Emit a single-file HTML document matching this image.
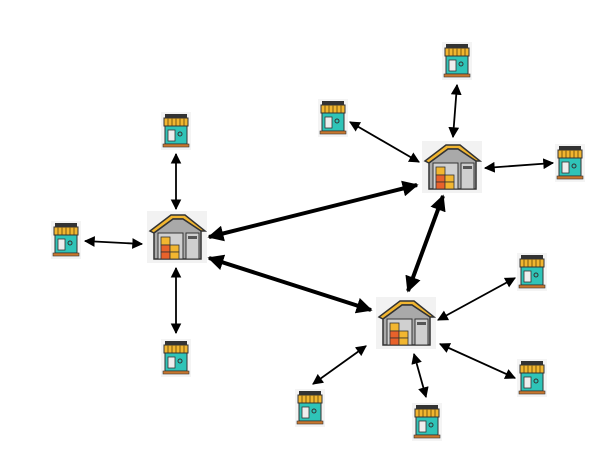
<!DOCTYPE html>
<html><head><style>body{margin:0;background:#fff}svg{display:block}</style></head><body>
<svg width="608" height="469" viewBox="0 0 608 469" xmlns="http://www.w3.org/2000/svg">
<defs>
<marker id="a" viewBox="0 0 10 10" refX="9" refY="5" markerWidth="6" markerHeight="6" orient="auto-start-reverse"><path d="M0,0L10,5L0,10z" fill="#000"/></marker>
<marker id="b" viewBox="0 0 10 10" refX="9" refY="5" markerWidth="4" markerHeight="4" orient="auto-start-reverse"><path d="M0,0L10,5L0,10z" fill="#000"/></marker>
<g id="s">
<rect x="0" y="0" width="30" height="38" fill="#f4f4f4"/>
<rect x="4" y="2" width="22" height="5" fill="#333"/>
<rect x="3" y="6" width="24" height="8" fill="#f2b630" stroke="#333" stroke-width="1"/>
<path d="M7 6v8M11 6v8M15 6v8M19 6v8M23 6v8" stroke="#7a5a10" stroke-width="1"/>
<rect x="4" y="14" width="22" height="18" fill="#2fc4b8" stroke="#333" stroke-width="1"/>
<rect x="7" y="18" width="7" height="11" fill="#eee" stroke="#333" stroke-width="0.8"/>
<circle cx="19" cy="22" r="2" fill="none" stroke="#333"/>
<rect x="2" y="32" width="26" height="3" fill="#c9772e" stroke="#333" stroke-width="0.6"/>
</g>
<g id="w">
<rect x="0" y="0" width="60" height="52" fill="#f2f2f2"/>
<path d="M3 20L24 4H38L58 20L54 20L36 8H26L7 22Z" fill="#f2b630" stroke="#333" stroke-width="1.5"/>
<path d="M7 22L26 8H36L54 20V48H7Z" fill="#a9a9a9" stroke="#333" stroke-width="1.5"/>
<rect x="11" y="22" width="25" height="26" fill="#d0d0d0" stroke="#333" stroke-width="1"/>
<rect x="14" y="26" width="9" height="8" fill="#f2b630" stroke="#333" stroke-width="0.8"/>
<rect x="14" y="34" width="9" height="7" fill="#e8622b" stroke="#333" stroke-width="0.8"/>
<rect x="14" y="41" width="9" height="7" fill="#e8622b" stroke="#333" stroke-width="0.8"/>
<rect x="23" y="34" width="9" height="7" fill="#f2b630" stroke="#333" stroke-width="0.8"/>
<rect x="23" y="41" width="9" height="7" fill="#f2b630" stroke="#333" stroke-width="0.8"/>
<rect x="39" y="22" width="13" height="26" fill="#cfcfcf" stroke="#333" stroke-width="1"/>
<rect x="41" y="25" width="9" height="3" fill="#555"/>
</g>
</defs>
<g stroke="#000" stroke-width="1.8" fill="none" marker-start="url(#a)" marker-end="url(#a)">
<line x1="176" y1="154" x2="176" y2="209"/>
<line x1="85" y1="241" x2="142" y2="244"/>
<line x1="176" y1="268" x2="176" y2="333"/>
<line x1="350" y1="122" x2="419" y2="162"/>
<line x1="457" y1="85" x2="453" y2="137"/>
<line x1="485" y1="168" x2="553" y2="163"/>
<line x1="438" y1="320" x2="515" y2="278"/>
<line x1="440" y1="344" x2="515" y2="378"/>
<line x1="414" y1="354" x2="426" y2="397"/>
<line x1="366" y1="346" x2="313" y2="384"/>
</g>
<g stroke="#000" stroke-width="4" fill="none" marker-start="url(#b)" marker-end="url(#b)">
<line x1="209" y1="237" x2="417" y2="185"/>
<line x1="209" y1="258" x2="371" y2="310"/>
<line x1="443" y1="196" x2="408" y2="291"/>
</g>
<use href="#w" x="147" y="211"/>
<use href="#w" x="422" y="141"/>
<use href="#w" x="376" y="297"/>
<use href="#s" x="161" y="112"/>
<use href="#s" x="51" y="221"/>
<use href="#s" x="161" y="339"/>
<use href="#s" x="318" y="99"/>
<use href="#s" x="442" y="42"/>
<use href="#s" x="555" y="144"/>
<use href="#s" x="517" y="253"/>
<use href="#s" x="517" y="359"/>
<use href="#s" x="295" y="389"/>
<use href="#s" x="412" y="403"/>
</svg>
</body></html>
